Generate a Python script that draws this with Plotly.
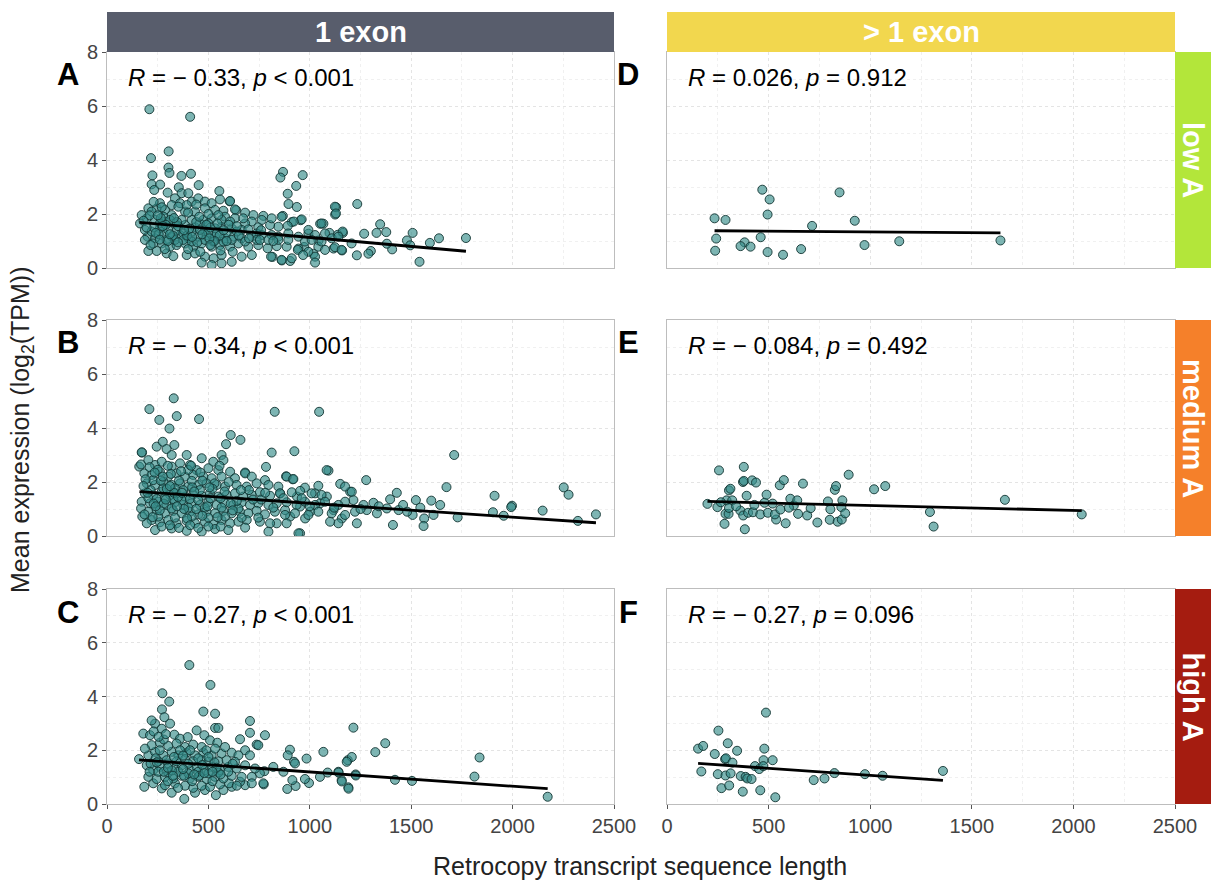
import plotly.graph_objects as go

W, H = 1211, 882

# ---------------- data ----------------
col_labels = ["1 exon", "> 1 exon"]
row_labels = ["low A", "medium A", "high A"]
panel_letters = ["A", "D", "B", "E", "C", "F"]
stats_text = [
    "<i>R</i> = − 0.33, <i>p</i> < 0.001", "<i>R</i> = 0.026, <i>p</i> = 0.912",
    "<i>R</i> = − 0.34, <i>p</i> < 0.001", "<i>R</i> = − 0.084, <i>p</i> = 0.492",
    "<i>R</i> = − 0.27, <i>p</i> < 0.001", "<i>R</i> = − 0.27, <i>p</i> = 0.096",
]
x_ticks = [0, 500, 1000, 1500, 2000, 2500]
y_ticks = [0, 2, 4, 6, 8]

A_pts = [
    (209,5.88),(410,5.60),(304,4.32),(217,4.07),(303,3.72),(308,3.52),(224,3.43),(367,3.41),(414,3.49),
    (220,3.10),(262,3.09),(354,2.99),(452,3.07),(868,3.56),(855,3.35),(965,3.44),(933,3.04),(891,2.75),
    (895,2.37),(936,2.26),(867,1.93),(554,2.85),(605,2.47),(637,2.14),(1234,2.37),(1130,2.25),(1125,1.98),
    (1347,1.62),(1329,1.30),(1377,1.33),(1507,1.30),(1637,1.10),(1770,1.11),(1541,0.23),(1592,0.93),
    (1479,1.02),(1495,0.84),(1406,0.69),(1380,0.90),(1301,0.63),(1289,0.53),(1268,1.27),(1232,0.47),
    (1163,1.30),(1138,1.23),(1117,0.72),(1159,0.65),(1097,1.30),(1067,1.64),(1051,1.64),(1043,1.02),
    (1018,0.53),(993,1.27),(972,0.78),(944,0.72),(911,1.70),(955,1.77),(816,0.41),(862,0.28),(903,0.26),
    (233,2.89),(299,2.79),(368,2.77),(401,2.77),(557,2.54),(607,2.48),(335,2.58),(319,2.33),(360,2.40),
    (418,2.46),(450,2.58),(483,2.46),(516,2.40),(483,2.21),(533,2.15),(574,2.12),(631,2.17),(582,1.90),
    (681,2.05),(722,1.96),(771,1.93),(714,1.72),(861,1.90),(960,1.80),(921,1.72),(891,1.56),(845,1.53),
    (804,1.59),(746,1.51),(681,1.65),(664,1.41),(615,1.47),(565,1.53),(533,1.47),(483,1.41),(434,1.51),
    (385,1.59),(335,1.65),(286,1.72),(237,1.78),(196,1.84),(171,1.96),(163,1.65),(204,2.21),(245,2.21),
    (286,2.15),(278,1.90),(319,1.96),(385,2.09),(434,2.09),(475,1.78),(516,1.84),(631,1.84),(565,1.78),
    (200,1.16),(237,1.10),(278,1.28),(319,1.16),(360,1.22),(401,1.10),(450,1.16),(491,1.22),(533,1.16),
    (582,1.10),(623,1.16),(664,1.10),(714,1.16),(763,1.22),(812,1.22),(845,1.16),(894,1.28),(944,1.16),
    (993,1.41),(1026,1.22),(1058,1.65),(1075,1.28),(1124,2.27),(1129,2.02),(1162,1.35),(1206,0.91),
    (270,0.91),(311,0.79),(343,0.85),(385,0.91),(425,0.79),(467,0.91),(516,0.79),(557,0.85),(607,0.79),
    (648,0.91),(697,0.79),(746,0.85),(792,0.73),(837,0.81),(886,0.79),(941,0.67),(993,0.60),(1042,0.79),
    (1075,0.67),(1124,0.77),(1157,0.67),(204,0.63),(245,0.63),(294,0.54),(327,0.44),(393,0.48),(434,0.54),
    (483,0.42),(526,0.36),(565,0.48),(615,0.23),(664,0.42),(714,0.48),(809,0.42),(861,0.30),(911,0.36),
    (967,0.48),(1026,0.42),(1026,0.20),(565,0.17),(516,0.11),(467,0.20),(187,1.41),(220,1.35),(261,1.47),
    (302,1.41),(343,1.38),(376,1.28),(418,1.35),(458,1.41),(500,1.31),(541,1.28),(590,1.31),(640,1.35),
    (697,1.43),(738,1.28),(187,1.04),(228,0.91),(294,1.04),(335,1.04),(376,1.04),(418,0.98),(483,1.04),
    (524,0.98),(574,0.98),(615,1.04),(681,0.98),(738,1.04),(261,1.65),(311,1.78),(368,1.78),(418,1.78),
    (458,1.65),(500,1.65),(220,2.09),(261,2.40),(352,2.27),(393,2.33),(549,1.96),(607,1.72),(672,1.84),
    (763,1.78),(812,1.84),(754,1.04),(796,1.04),(845,1.04),(894,1.04),(976,0.98),(1009,1.04),(1058,0.98),
    (1108,1.10),(1141,1.16),(230,1.50),(255,1.25),(290,1.60),(325,1.20),(350,1.55),(395,1.20),(440,1.70),
    (470,1.25),(510,1.50),(555,1.20),(600,1.60),(650,1.20),(210,1.95),(265,1.85),(300,1.00),(345,1.70),
    (405,1.45),(445,0.95),(490,1.60),(530,1.00),(575,1.40),(620,0.60),(700,1.10),(760,1.40),(820,1.00),
    (240,1.30),(275,1.55),(310,1.25),(330,1.85),(380,1.40),(420,1.15),(455,1.90),(505,1.10),(545,1.65),
    (590,1.00),(640,1.55),(215,0.85),(260,1.05),(350,0.95),(400,0.70),(460,0.60),(510,0.85),(560,0.65),
    (285,0.70),(230,2.45),(270,2.25),(400,2.05),(440,2.35),(500,2.00),(180,1.75),(195,1.50),(250,1.95),
]
B_pts = [
    (329,5.10),(209,4.70),(258,4.30),(344,4.44),(454,4.33),(308,3.98),(827,4.60),(1046,4.60),(610,3.74),
    (658,3.56),(587,3.40),(173,3.09),(812,3.09),(924,3.14),(1712,3.00),(784,2.56),(1092,2.42),(681,2.35),
    (883,2.21),(916,2.10),(1150,1.93),(1278,2.07),(1674,1.81),(1911,1.49),(2252,1.80),(2276,1.53),
    (1997,1.12),(1993,1.07),(1903,0.88),(1956,0.75),(2148,0.94),(2322,0.56),(2411,0.80),(1729,0.69),
    (1610,0.78),(1643,1.15),(1599,1.31),(1523,1.33),(1507,0.78),(1564,0.65),(1561,0.37),(1429,1.60),
    (1396,1.36),(1380,1.02),(1438,0.96),(1410,0.41),(1331,0.84),(1314,1.23),(1281,0.96),(1265,1.15),
    (1232,0.47),(1215,1.33),(1199,1.64),(1174,1.27),(1158,0.65),(1141,0.47),(1117,0.96),(1100,0.53),
    (1084,1.46),(1051,1.21),(1026,1.58),(1002,0.90),(977,0.65),(952,1.09),(937,1.46),(952,0.10),(903,0.72),
    (878,0.96),(854,1.58),(837,0.47),(171,3.10),(159,2.57),(168,2.65),(245,3.31),(275,3.49),(332,3.37),
    (294,3.22),(319,3.00),(393,3.00),(467,2.88),(565,3.00),(574,2.81),(524,2.75),(681,2.32),(204,2.81),
    (237,2.63),(270,2.75),(319,2.57),(360,2.69),(409,2.63),(442,2.44),(500,2.51),(549,2.44),(607,2.38),
    (184,2.32),(220,2.26),(261,2.38),(302,2.20),(343,2.32),(385,2.20),(425,2.26),(475,2.20),(516,2.14),
    (565,2.20),(631,2.14),(714,2.20),(779,2.07),(886,2.20),(919,2.11),(196,1.95),(237,1.89),(278,2.01),
    (319,1.89),(360,1.95),(401,1.83),(450,1.89),(491,1.95),(541,1.89),(582,1.83),(639,1.89),(689,1.83),
    (738,1.95),(796,1.89),(845,1.83),(976,1.79),(1042,1.86),(1083,2.44),(187,1.58),(228,1.52),(270,1.64),
    (311,1.52),(343,1.58),(385,1.46),(425,1.54),(467,1.49),(508,1.58),(549,1.46),(590,1.52),(631,1.58),
    (672,1.46),(714,1.52),(754,1.62),(804,1.49),(853,1.58),(911,1.62),(952,1.67),(1009,1.58),(1058,1.52),
    (171,1.27),(212,1.21),(253,1.27),(294,1.15),(335,1.25),(376,1.15),(418,1.21),(458,1.15),(500,1.25),
    (541,1.15),(582,1.21),(623,1.15),(664,1.25),(705,1.15),(746,1.21),(796,1.15),(837,1.21),(886,1.25),
    (935,1.15),(976,1.27),(1026,1.15),(1075,1.27),(1141,1.15),(1174,1.83),(1207,1.64),(168,1.02),(204,0.90),
    (245,0.96),(286,0.84),(327,0.93),(368,0.84),(409,0.90),(450,0.80),(491,0.90),(533,0.84),(574,0.93),
    (615,0.84),(656,0.90),(697,0.84),(738,0.93),(779,0.80),(828,0.90),(878,0.78),(927,0.84),(993,0.78),
    (1042,0.90),(1108,0.84),(1174,0.78),(1223,0.90),(220,0.59),(261,0.51),(302,0.59),(343,0.47),(393,0.56),
    (434,0.47),(483,0.53),(524,0.43),(565,0.59),(607,0.47),(648,0.53),(689,0.59),(754,0.53),(804,0.47),
    (886,0.47),(237,0.22),(319,0.28),(393,0.19),(467,0.16),(533,0.26),(598,0.22),(681,0.31),(796,0.16),
    (944,0.10),(196,0.47),(174,0.72),(253,0.72),(335,0.68),(418,0.72),(500,0.68),(582,0.72),(664,0.68),
    (746,0.68),(228,2.07),(278,1.77),(335,1.77),(376,1.70),(418,2.04),(458,1.70),(204,1.40),(245,1.37),
    (286,1.42),(327,1.37),(368,1.33),(409,1.37),(450,1.33),(319,1.02),(401,1.05),(483,1.05),(565,1.05),
    (648,1.02),(190,2.10),(215,1.70),(250,2.45),(280,1.20),(300,2.60),(330,1.60),(355,2.05),(380,1.00),
    (420,1.80),(460,2.35),(495,1.10),(530,1.95),(560,1.40),(600,2.00),(640,1.30),(700,1.70),(760,1.35),
    (820,1.05),(870,1.40),(960,1.40),(1000,1.10),(1120,1.05),(1250,1.00),(230,1.20),(260,0.95),(295,1.75),
    (350,1.45),(400,2.45),(440,1.00),(520,1.75),(610,1.20),(1340,1.10),(1460,1.15),(1480,0.90),(1545,1.05),
    (180,1.85),(210,2.55),(240,1.10),(265,2.05),(290,1.35),(315,2.30),(345,1.10),(370,1.60),(395,0.65),
    (430,1.65),(470,0.75),(510,1.40),(545,0.70),(580,1.65),(620,0.95),(660,1.70),(720,1.35),(780,1.60),
    (185,0.80),(225,0.70),(270,0.35),(310,0.40),(355,0.30),(410,0.40),(450,0.30),(500,0.35),(560,0.35),
    (200,1.60),(235,2.35),(275,2.20),(310,1.85),(365,2.40),(415,2.60),(470,2.05),(505,1.80),(555,2.60),
]
C_pts = [
    (406,5.17),(510,4.43),(273,4.12),(307,3.81),(271,3.52),(475,3.44),(533,3.36),(533,2.83),(549,2.83),
    (705,3.09),(705,2.65),(779,2.56),(283,3.23),(237,2.99),(179,2.62),(212,2.56),(220,3.11),(270,2.80),
    (311,2.99),(332,2.58),(360,2.43),(398,2.49),(442,2.74),(480,2.56),(508,2.37),(544,2.28),(656,2.41),
    (738,2.21),(746,2.19),(681,2.00),(705,1.81),(902,2.02),(891,1.81),(922,1.57),(927,1.51),(984,1.69),
    (1067,1.94),(1215,2.84),(1187,1.63),(1207,1.75),(1182,1.57),(1226,1.10),(1141,1.20),(1088,1.17),
    (1050,1.01),(1157,0.89),(1190,0.62),(996,0.78),(976,0.93),(930,0.67),(889,0.56),(914,0.89),(870,1.20),
    (820,1.38),(776,1.22),(773,0.73),(754,1.14),(730,1.32),(714,1.01),(681,0.70),(656,0.83),(615,0.64),
    (574,0.52),(537,0.33),(483,0.52),(434,0.42),(381,0.19),(319,0.42),(270,0.58),(184,0.64),(228,0.77),
    (286,0.70),(335,0.77),(385,0.68),(425,0.60),(467,0.68),(508,0.64),(557,0.73),(602,0.77),(640,0.68),
    (158,1.67),(196,1.44),(228,1.26),(263,1.38),(302,1.51),(335,1.32),(368,1.44),(409,1.26),(442,1.38),
    (483,1.26),(516,1.38),(557,1.26),(598,1.38),(640,1.32),(681,1.44),(204,1.01),(245,0.93),(286,1.01),
    (327,0.95),(368,1.05),(409,0.95),(450,1.01),(491,0.93),(533,1.01),(574,0.95),(615,1.05),(664,1.01),
    (204,1.81),(237,1.94),(278,1.81),(319,1.94),(352,1.81),(393,1.91),(434,1.81),(475,1.91),(516,1.81),
    (565,1.88),(615,1.91),(648,1.81),(220,2.19),(261,2.28),(302,2.16),(343,2.25),(385,2.12),(425,2.21),
    (467,2.12),(533,2.06),(582,2.12),(187,2.06),(253,1.59),(294,1.63),(343,1.59),(385,1.67),(425,1.59),
    (467,1.63),(500,1.57),(549,1.59),(590,1.63),(631,1.57),(253,1.20),(302,1.17),(352,1.20),(401,1.14),
    (450,1.20),(500,1.14),(549,1.17),(598,1.20),(771,0.77),(714,0.77),(1323,1.93),(1372,2.26),(1227,1.06),
    (1142,1.17),(1158,0.84),(1191,0.57),(1420,0.90),(1504,0.86),(1812,1.02),(1837,1.73),(2173,0.27),
    (240,1.70),(280,2.40),(320,1.25),(360,2.00),(400,1.50),(450,1.70),(490,2.00),(530,1.55),(560,1.10),
    (300,0.85),(350,0.60),(420,0.85),(260,2.00),(215,1.50),(380,1.05),(470,1.45),(520,0.85),(620,1.50),
    (230,2.70),(255,2.50),(290,2.60),(330,1.75),(375,1.80),(410,2.00),(455,1.05),(500,1.75),(540,1.35),
    (280,1.20),(325,1.05),(375,1.30),(430,1.10),(480,1.15),(520,1.20),(210,1.20),(245,1.55),(300,1.35),
]
D_pts = [
    (234,1.84),(288,1.78),(242,1.09),(237,0.64),(469,2.90),(505,2.54),(495,1.98),(461,1.14),(382,0.95),
    (362,0.81),(411,0.79),(495,0.59),(571,0.49),(660,0.70),(714,1.56),(849,2.80),(924,1.75),(972,0.85),
    (1143,0.99),(1641,1.02),
]
E_pts = [
    (199,1.19),(256,2.43),(248,1.07),(283,0.45),(288,0.82),(303,0.82),(293,1.32),(305,1.69),(312,1.75),
    (321,1.32),(305,1.04),(361,0.94),(378,2.56),(374,2.00),(378,2.04),(419,2.06),(392,1.49),(375,0.76),
    (383,0.25),(399,0.86),(423,0.88),(459,0.80),(438,1.98),(480,1.23),(490,1.53),(496,0.86),(537,0.61),
    (531,0.80),(558,0.98),(555,1.88),(575,2.07),(584,0.47),(607,1.38),(624,1.13),(641,1.32),(645,0.82),
    (669,1.94),(690,0.76),(707,1.03),(740,0.50),(792,1.28),(801,0.60),(804,0.99),(826,1.71),(832,1.85),
    (840,0.53),(860,0.61),(863,1.32),(858,1.07),(877,0.84),(894,2.27),(1019,1.73),(1074,1.85),(1294,0.89),
    (1312,0.35),(1663,1.34),(2041,0.80),(265,1.25),(340,1.10),(430,1.15),(520,1.20),(600,1.05),
]
F_pts = [
    (153,2.06),(178,2.16),(169,1.21),(253,2.73),(235,1.86),(299,2.26),(286,1.67),(290,1.70),(322,1.54),
    (345,1.98),(250,1.11),(288,1.06),(313,1.14),(268,0.59),(306,0.69),(363,1.04),(387,1.01),(395,0.95),
    (416,0.93),(373,0.46),(433,1.41),(454,1.30),(475,1.63),(479,2.06),(474,1.41),(459,0.51),(487,3.40),
    (520,1.63),(533,0.25),(722,0.89),(775,0.95),(824,1.15),(974,1.11),(1061,1.05),(1358,1.23),
]
panel_points = [A_pts, D_pts, B_pts, E_pts, C_pts, F_pts]

# regression line end points: (x0, y0, x1, y1)
fit_lines = [
    (160, 1.69, 1770, 0.62), (234, 1.38, 1641, 1.30),
    (160, 1.64, 2411, 0.49), (199, 1.28, 2041, 0.94),
    (158, 1.64, 2173, 0.57), (153, 1.51, 1358, 0.88),
]

# ---------------- layout geometry (pixels) ----------------
col_px = [(107, 614), (667, 1175)]
row_px = [(52, 268), (320, 536), (589, 804)]
px = lambda v: v / W
py = lambda v: 1 - v / H

strip_top_colors = ["#585d6c", "#f2d74e"]
strip_right_colors = ["#b3e63a", "#f5802a", "#a51c10"]

fig = go.Figure()
layout = dict(
    width=W, height=H, margin=dict(l=0, r=0, t=0, b=0, autoexpand=False),
    plot_bgcolor="white", paper_bgcolor="white", showlegend=False,
    font=dict(family="Liberation Sans, Arial, sans-serif", color="#222"),
)
annotations, shapes = [], []

grid_major = "#e4e4e4"
grid_minor = "#f0f0f0"

for i in range(6):
    r, c = divmod(i, 2)
    n = i + 1
    xa = "x" if n == 1 else f"x{n}"
    ya = "y" if n == 1 else f"y{n}"
    pts = panel_points[i]
    fig.add_trace(go.Scatter(
        x=[p[0] for p in pts], y=[p[1] for p in pts], mode="markers",
        xaxis=xa, yaxis=ya,
        marker=dict(size=9, color="rgba(52,140,136,0.64)",
                    line=dict(color="rgba(18,52,50,0.9)", width=1)),
        hoverinfo="skip"))
    x0, y0, x1, y1 = fit_lines[i]
    fig.add_trace(go.Scatter(x=[x0, x1], y=[y0, y1], mode="lines", xaxis=xa, yaxis=ya,
                             line=dict(color="black", width=2.8), hoverinfo="skip"))
    bottom = (r == 2)
    left = (c == 0)
    layout["xaxis" if n == 1 else f"xaxis{n}"] = dict(
        domain=[px(col_px[c][0]), px(col_px[c][1])], anchor=ya, range=[0, 2500],
        automargin=False, fixedrange=True,
        tickvals=x_ticks, showticklabels=bottom, ticks="outside" if bottom else "",
        ticklen=4, tickcolor="#555", tickfont=dict(size=20, color="#444"),
        showgrid=True, gridcolor=grid_major, griddash="dot", gridwidth=1,
        minor=dict(dtick=250, tick0=0, showgrid=True, gridcolor=grid_minor, griddash="dot", ticks=""),
        showline=True, mirror=True, linecolor="#bdbdbd", linewidth=1, zeroline=False,
    )
    layout["yaxis" if n == 1 else f"yaxis{n}"] = dict(
        domain=[py(row_px[r][1]), py(row_px[r][0])], anchor=xa, range=[0, 8],
        automargin=False, fixedrange=True,
        tickvals=y_ticks, showticklabels=left, ticks="outside" if left else "",
        ticklen=4, tickcolor="#555", tickfont=dict(size=20, color="#444"),
        showgrid=True, gridcolor=grid_major, griddash="dot", gridwidth=1,
        minor=dict(dtick=1, tick0=0, showgrid=True, gridcolor=grid_minor, griddash="dot", ticks=""),
        showline=True, mirror=True, linecolor="#bdbdbd", linewidth=1, zeroline=False,
    )
    # stats text
    annotations.append(dict(
        x=px(col_px[c][0] + 19), y=py(row_px[r][0] + 25), xref="paper", yref="paper",
        text=stats_text[i], showarrow=False, xanchor="left", yanchor="middle",
        font=dict(size=24, color="black")))
    # panel letter
    annotations.append(dict(
        x=px(col_px[c][0] - 39), y=py(row_px[r][0] + 23), xref="paper", yref="paper",
        text=f"<b>{panel_letters[i]}</b>", showarrow=False, xanchor="center", yanchor="middle",
        font=dict(size=31, color="black")))

# top strips
for c in range(2):
    shapes.append(dict(type="rect", xref="paper", yref="paper",
                       x0=px(col_px[c][0]), x1=px(col_px[c][1]), y0=py(52), y1=py(12),
                       fillcolor=strip_top_colors[c], line=dict(width=0), layer="above"))
    annotations.append(dict(x=px((col_px[c][0] + col_px[c][1]) / 2), y=py(32), xref="paper", yref="paper",
                            text=f"<b>{col_labels[c]}</b>", showarrow=False,
                            font=dict(size=29, color="white"), xanchor="center", yanchor="middle"))
# right strips
for r in range(3):
    shapes.append(dict(type="rect", xref="paper", yref="paper",
                       x0=px(1175), x1=px(1211), y0=py(row_px[r][1]), y1=py(row_px[r][0]),
                       fillcolor=strip_right_colors[r], line=dict(width=0), layer="above"))
    annotations.append(dict(x=px(1193), y=py((row_px[r][0] + row_px[r][1]) / 2), xref="paper", yref="paper",
                            text=f"<b>{row_labels[r]}</b>", showarrow=False, textangle=90,
                            font=dict(size=29, color="white"), xanchor="center", yanchor="middle"))

# axis titles
annotations.append(dict(x=px(640), y=py(866), xref="paper", yref="paper",
                        text="Retrocopy transcript sequence length", showarrow=False,
                        font=dict(size=25, color="#222"), xanchor="center", yanchor="middle"))
annotations.append(dict(x=px(22), y=py(430), xref="paper", yref="paper",
                        text="Mean expression (log<sub>2</sub>(TPM))", showarrow=False, textangle=-90,
                        font=dict(size=25, color="#222"), xanchor="center", yanchor="middle"))

layout["annotations"] = annotations
layout["shapes"] = shapes
fig.update_layout(**layout)
fig.write_html(
    "out.html",
    config={"displayModeBar": False, "staticPlot": True},
    post_script="document.body.style.margin='0px';document.body.style.overflow='hidden';",
)
